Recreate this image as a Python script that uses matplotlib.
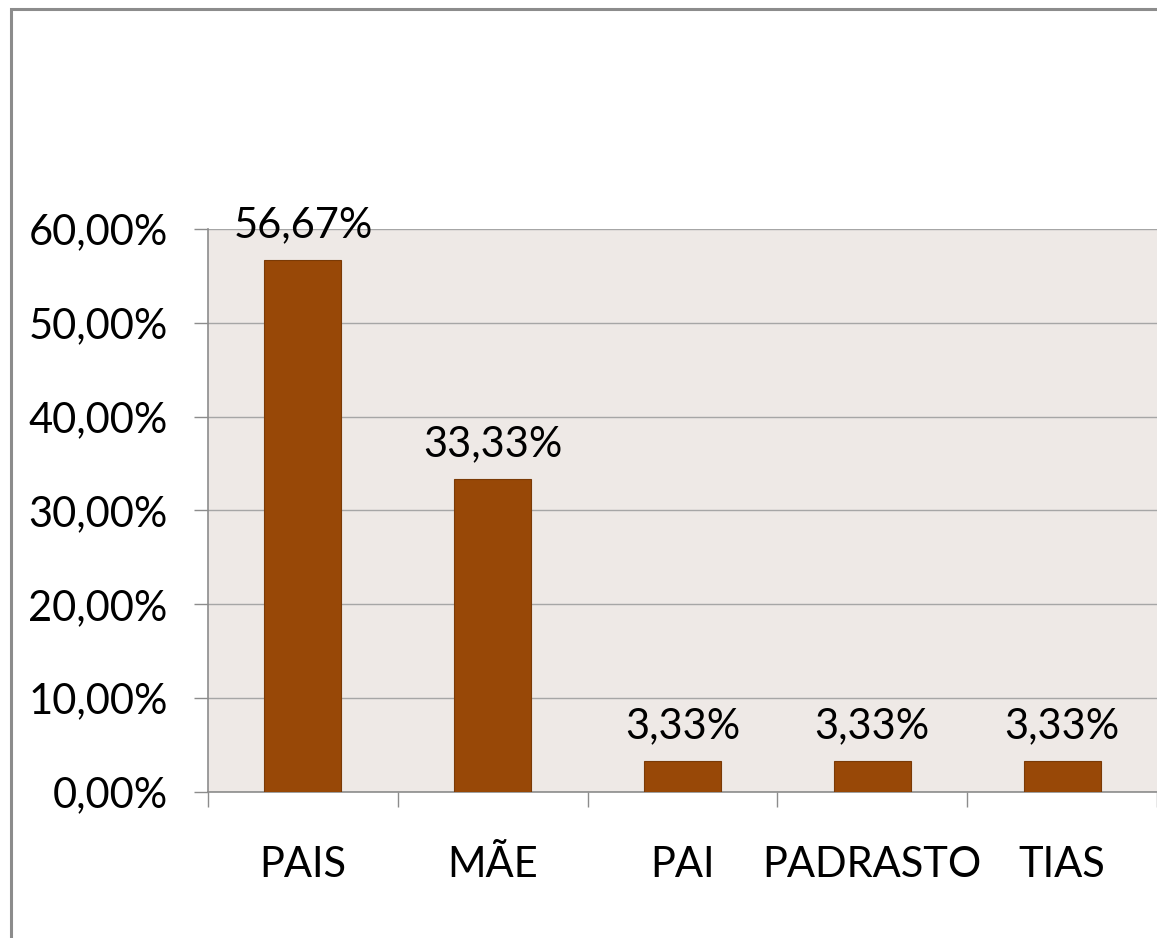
import matplotlib
matplotlib.use("Agg")
import matplotlib.pyplot as plt
from matplotlib.patches import Rectangle
import matplotlib.transforms as mtransforms

categories = ["PAIS", "MÃE", "PAI", "PADRASTO", "TIAS"]
values = [56.67, 33.33, 3.33, 3.33, 3.33]
yticks = [0, 10, 20, 30, 40, 50, 60]
ytick_labels = ["0,00%", "10,00%", "20,00%", "30,00%", "40,00%", "50,00%", "60,00%"]
value_labels = ["56,67%", "33,33%", "3,33%", "3,33%", "3,33%"]

plt.rcParams['font.family'] = ['Lato', 'DejaVu Sans']
FS = 30

W, H = 1157, 938
fig = plt.figure(figsize=(W/100, H/100), dpi=100)
fig.patch.set_facecolor("white")

# outer frame
fig.patches.append(Rectangle((11/W, -0.05), 1.2, (H-9)/H + 0.05, transform=fig.transFigure,
                             fill=False, edgecolor="#8c8c8c", linewidth=2.2))

left = 208/W
bottom = (H-792)/H
top = (H-229)/H
ax = fig.add_axes([left, bottom, 1 - left, top - bottom])
ax.set_facecolor("#EEE9E6")

x = list(range(len(categories)))
ax.bar(x, values, width=0.405, color="#984807", edgecolor="#7a3a06", linewidth=0.8, zorder=3)

step = 191.5
ax.set_xlim(-0.5, -0.5 + (W - 208) / step)
ax.set_ylim(0, 60)

ax.set_yticks(yticks)
ax.set_yticklabels(ytick_labels, fontsize=FS)
ax.yaxis.grid(True, color="#a6a6a6", linewidth=1.0, zorder=0)
ax.set_axisbelow(True)

ax.set_xticks([i + 0.5 for i in range(-1, len(categories))])
ax.set_xticklabels([])
ax.tick_params(axis="x", which="major", length=11, width=1, color="#8c8c8c")
ax.tick_params(axis="y", length=10, width=1, color="#8c8c8c", pad=19)

trans = mtransforms.blended_transform_factory(ax.transData, ax.transAxes)
for xi, cat in zip(x, categories):
    ax.text(xi, -85/563, cat, ha="center", va="baseline", fontsize=FS,
            color="black", transform=trans, clip_on=False)

for s in ["top", "right"]:
    ax.spines[s].set_visible(False)
for s in ["left", "bottom"]:
    ax.spines[s].set_color("#8c8c8c")
    ax.spines[s].set_linewidth(1.2)

for xi, v, lab in zip(x, values, value_labels):
    ax.text(xi, v + 2.45, lab, ha="center", va="baseline", fontsize=FS, color="black")

fig.savefig("out.png", dpi=100, facecolor="white")
